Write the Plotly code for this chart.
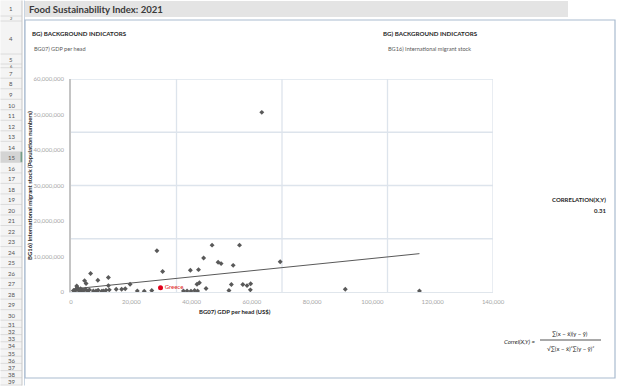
import plotly.graph_objects as go
import numpy as np

W, H = 622, 386

# ---------------- data ----------------
gdp = [63300, 46800, 55900, 28500, 44000, 69400, 48800, 49800, 53800, 30400,
       39600, 42300, 6500, 12400, 4500, 5000, 8900, 12400, 19600,
       41800, 42600, 44800, 53200, 52400, 57000, 58400, 59600, 59500,
       91000, 115600,
       37300, 38500, 39800, 41000, 42000,
       22000, 24300, 26800, 15000, 16800, 18000,
       800, 1200, 1700, 1900, 2100, 2400, 2800, 3200, 3500, 3900, 4200, 4800,
       5500, 6100, 7400, 8300, 9000, 10200, 10700, 11600, 12700]
migrants = [50600000, 13200000, 13200000, 11600000, 9600000, 8500000, 8400000, 8000000, 7500000, 5800000,
            6100000, 6300000, 5200000, 4100000, 3200000, 2400000, 3300000, 1800000, 2200000,
            2200000, 2600000, 1000000, 2100000, 400000, 2100000, 1800000, 2300000, 600000,
            800000, 300000,
            300000, 300000, 250000, 400000, 300000,
            300000, 200000, 400000, 800000, 800000, 900000,
            400000, 200000, 800000, 1700000, 1300000, 600000, 300000, 900000, 200000, 600000, 400000, 800000,
            300000, 600000, 300000, 300000, 500000, 200000, 300000, 500000, 600000]

highlight_name = ["Greece"]
highlight_gdp = [29700]
highlight_migrants = [1200000]

correlation_text = "0.31"

x_tick_vals = [0, 20000, 40000, 60000, 80000, 100000, 120000, 140000]
x_tick_text = ["0", "20,000", "40,000", "60,000", "80,000", "100,000", "120,000", "140,000"]
y_tick_vals = [0, 10000000, 20000000, 30000000, 40000000, 50000000, 60000000]
y_tick_text = ["0", "10,000,000", "20,000,000", "30,000,000", "40,000,000", "50,000,000", "60,000,000"]

grid_x_step = 35000
grid_y_step = 15000000

# ---------------- helpers ----------------
FONT = "Lato"


def px(x):
    return x / W


def py(y):
    return 1 - y / H


shapes = []
annotations = []


def rect(x0, y0, x1, y1, fill, line=None, lw=0):
    shapes.append(dict(type="rect", xref="paper", yref="paper",
                       x0=px(x0), x1=px(x1), y0=py(y1), y1=py(y0),
                       fillcolor=fill, line=dict(color=line or fill, width=lw),
                       layer="below"))


def hline(x0, x1, y, color, w=1, layer="below"):
    shapes.append(dict(type="line", xref="paper", yref="paper",
                       x0=px(x0), x1=px(x1), y0=py(y), y1=py(y),
                       line=dict(color=color, width=w), layer=layer))


def vline(x, y0, y1, color, w=1, layer="below"):
    shapes.append(dict(type="line", xref="paper", yref="paper",
                       x0=px(x), x1=px(x), y0=py(y0), y1=py(y1),
                       line=dict(color=color, width=w), layer=layer))


def text(x, y, s, size=6, color="#404040", bold=False, xanchor="left", italic=False):
    if bold:
        s = "<b>" + s + "</b>"
    if italic:
        s = "<i>" + s + "</i>"
    annotations.append(dict(xref="paper", yref="paper", x=px(x), y=py(y), text=s,
                            showarrow=False, xanchor=xanchor, yanchor="middle",
                            borderpad=0,
                            font=dict(family=FONT, size=size, color=color)))


# ---------------- spreadsheet chrome ----------------
rows = [("1", 0.5, 16), ("2", 16, 21), ("4", 21, 54), ("5", 54, 64), ("6", 64, 67.7)]
top = 67.7
for n in range(7, 31):
    rows.append((str(n), top, top + 10.52))
    top += 10.52
for n in range(31, 40):
    h = 7.2
    rows.append((str(n), top, top + h))
    top += h

rect(0.5, 0.5, 22, H - 0.5, "#F4F4F4")
for lab, y0, y1 in rows:
    if lab == "15":
        rect(0.5, y0, 22, y1, "#D4D4D4")
        vline(21.5, y0, y1, "#217346", 1.5)
    hline(0.5, 22, y1, "#D6D6D6", 0.8)
    small = (y1 - y0) < 7
    text(11, (y0 + y1) / 2 + 0.5, lab, size=4 if small else 6, color="#555555", xanchor="center")
vline(22, 0.5, H - 0.5, "#C8C8C8", 1)
vline(24.5, 0.5, H - 0.5, "#C9D5E2", 1)

# title band
rect(25, 1, 568, 17, "#E4E4E4")
text(28, 9.5, "Food Sustainability Index: 2021", size=9.6, color="#3A3A3A", bold=True)

# white panel with border
rect(25, 20, 615, 378, "#FFFFFF", "#A9BBCF", 1.2)

text(31, 34, "BG) BACKGROUND INDICATORS", size=6.2, color="#262626", bold=True)
text(33, 48, "BG07) GDP per head", size=5.6, color="#595959")
text(382, 34, "BG) BACKGROUND INDICATORS", size=6.2, color="#262626", bold=True)
text(387, 48, "BG16) International migrant stock", size=5.6, color="#595959")

text(607, 200, "CORRELATION(X,Y)", size=6, color="#262626", bold=True, xanchor="right")
text(607, 210, correlation_text, size=6, color="#262626", bold=True, xanchor="right")

# formula
text(537, 341, "Correl(X,Y) =", size=6, color="#262626", italic=True, xanchor="right")
text(570, 333.5, "\u2211(x \u2212 x\u0304)(y \u2212 y\u0304)", size=6, color="#262626", xanchor="center")
hline(540, 601, 340, "#262626", 0.8, layer="above")
text(570, 348, "\u221A\u2211(x \u2212 x\u0304)\u00B2\u2211(y \u2212 y\u0304)\u00B2", size=6, color="#262626", xanchor="center")

# x axis title (left of centre, as in the sheet)
text(235, 311, "BG07) GDP per head (US$)", size=6, color="#262626", bold=True, xanchor="center")

# ---------------- chart ----------------
x_dom = [px(71), px(493)]
y_dom = [py(292), py(79)]
x_range = [0, x_tick_vals[-1]]
y_range = [0, y_tick_vals[-1]]

gx = grid_x_step
while gx <= x_range[1]:
    shapes.append(dict(type="line", xref="x", yref="y", x0=gx, x1=gx, y0=y_range[0], y1=y_range[1],
                       line=dict(color="#DDE4EC", width=1.3), layer="below"))
    gx += grid_x_step
gy = grid_y_step
while gy <= y_range[1]:
    shapes.append(dict(type="line", xref="x", yref="y", x0=x_range[0], x1=x_range[1], y0=gy, y1=gy,
                       line=dict(color="#DDE4EC", width=1.3), layer="below"))
    gy += grid_y_step

all_x = np.array(gdp + highlight_gdp, dtype=float)
all_y = np.array(migrants + highlight_migrants, dtype=float)
slope, intercept = np.polyfit(all_x, all_y, 1)
tx = np.array([all_x.min(), all_x.max()])
ty = intercept + slope * tx

fig = go.Figure()
fig.add_trace(go.Scatter(x=gdp, y=migrants, mode="markers",
                         marker=dict(symbol="diamond", size=3.8, color="#595959"),
                         hoverinfo="skip", showlegend=False))
fig.add_trace(go.Scatter(x=tx, y=ty, mode="lines", line=dict(color="#595959", width=1),
                         hoverinfo="skip", showlegend=False))
fig.add_trace(go.Scatter(x=highlight_gdp, y=highlight_migrants, mode="markers+text",
                         text=highlight_name, textposition="middle right",
                         textfont=dict(family=FONT, size=6, color="#E0201B"),
                         marker=dict(symbol="circle", size=5, color="#E0001B"),
                         hoverinfo="skip", showlegend=False))

fig.update_layout(
    width=W, height=H, autosize=False,
    margin=dict(l=0, r=0, t=0, b=0, pad=0, autoexpand=False),
    paper_bgcolor="#FFFFFF",
    plot_bgcolor="#F5F9FD",
    showlegend=False,
    shapes=shapes,
    annotations=annotations,
    xaxis=dict(domain=x_dom, range=x_range, tickvals=x_tick_vals, ticktext=x_tick_text,
               showgrid=False, zeroline=False, showline=True, linecolor="#E0E6EC", linewidth=1,
               ticks="outside", ticklen=4, tickcolor="rgba(0,0,0,0)", automargin=False,
               tickfont=dict(family=FONT, size=6, color="#A6A6A6"), fixedrange=True),
    yaxis=dict(domain=y_dom, range=y_range, tickvals=y_tick_vals, ticktext=y_tick_text,
               showgrid=False, zeroline=False, showline=True, linecolor="#C4C4C4", linewidth=1.5,
               ticks="outside", ticklen=4, tickcolor="rgba(0,0,0,0)", automargin=False,
               tickfont=dict(family=FONT, size=6, color="#A6A6A6"), fixedrange=True,
               title=dict(text="<b>BG16) International migrant stock (Population numbers)</b>",
                          font=dict(family=FONT, size=6, color="#262626"), standoff=0)),
)

page_js = (
    "var de=document.documentElement, b=document.body;"
    "[de,b].forEach(function(e){e.style.margin='0';e.style.padding='0';e.style.overflow='hidden';"
    "e.style.width='622px';e.style.height='386px';});"
    "var d=document.getElementById('{plot_id}');"
    "d.style.position='fixed';d.style.left='0px';d.style.top='0px';"
    "var t=document.getElementById('js-plotly-tester'); if(t){t.style.display='none';}"
)

fig.write_html("out.html", config={"displayModeBar": False}, post_script=page_js)
